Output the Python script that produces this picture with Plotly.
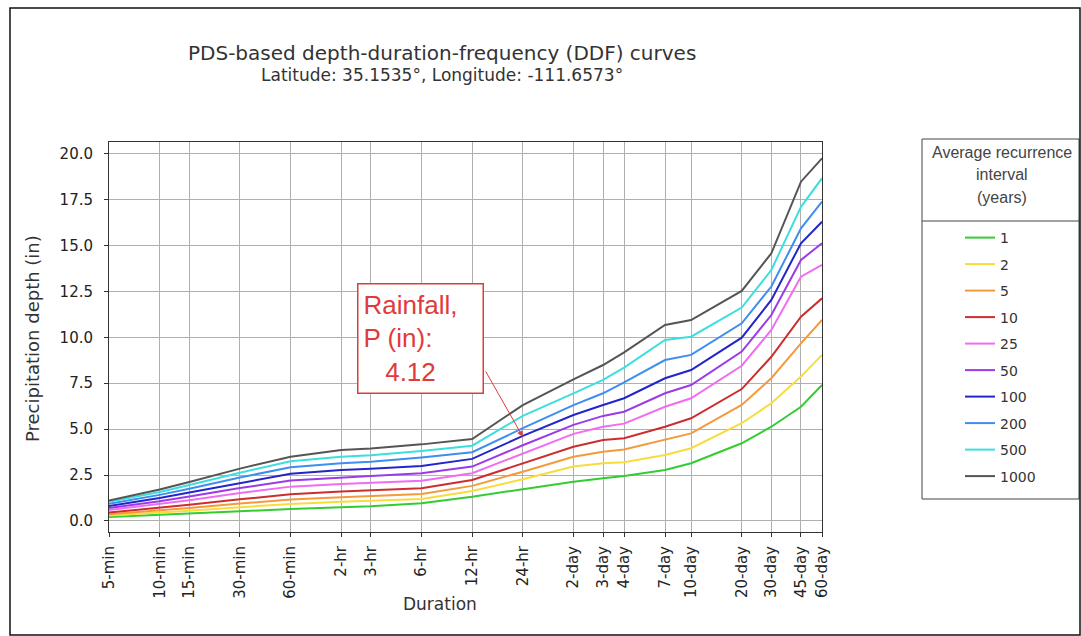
import math
import plotly.graph_objects as go

durations_min = [5, 10, 15, 30, 60, 120, 180, 360, 720, 1440, 2880, 4320, 5760,
                 10080, 14400, 28800, 43200, 64800, 86400]
duration_labels = ["5-min", "10-min", "15-min", "30-min", "60-min", "2-hr", "3-hr",
                   "6-hr", "12-hr", "24-hr", "2-day", "3-day", "4-day", "7-day",
                   "10-day", "20-day", "30-day", "45-day", "60-day"]

ari_1 = [0.21, 0.32, 0.40, 0.53, 0.65, 0.75, 0.80, 0.96, 1.32, 1.73, 2.14, 2.32, 2.45, 2.78, 3.14, 4.23, 5.13, 6.22, 7.40]
ari_2 = [0.30, 0.45, 0.56, 0.75, 0.93, 1.05, 1.10, 1.20, 1.63, 2.27, 2.96, 3.14, 3.20, 3.59, 3.96, 5.32, 6.41, 7.86, 9.04]
ari_5 = [0.37, 0.57, 0.71, 0.95, 1.17, 1.29, 1.35, 1.47, 1.91, 2.68, 3.50, 3.77, 3.89, 4.41, 4.77, 6.32, 7.77, 9.67, 10.94]
ari_10 = [0.46, 0.71, 0.88, 1.18, 1.45, 1.60, 1.66, 1.78, 2.23, 3.14, 4.04, 4.41, 4.50, 5.13, 5.59, 7.18, 8.94, 11.12, 12.12]
ari_25 = [0.60, 0.91, 1.13, 1.52, 1.87, 2.01, 2.07, 2.19, 2.60, 3.68, 4.74, 5.13, 5.30, 6.22, 6.68, 8.45, 10.40, 13.30, 13.94]
ari_50 = [0.70, 1.07, 1.33, 1.79, 2.20, 2.38, 2.45, 2.60, 2.96, 4.12, 5.23, 5.72, 5.95, 6.95, 7.40, 9.22, 11.21, 14.21, 15.12]
ari_100 = [0.82, 1.25, 1.55, 2.08, 2.57, 2.78, 2.84, 2.99, 3.38, 4.63, 5.77, 6.31, 6.68, 7.77, 8.22, 9.98, 12.03, 15.12, 16.29]
ari_200 = [0.94, 1.42, 1.76, 2.37, 2.92, 3.14, 3.22, 3.45, 3.74, 5.05, 6.31, 6.95, 7.54, 8.76, 9.04, 10.76, 12.76, 15.93, 17.38]
ari_500 = [1.04, 1.58, 1.96, 2.63, 3.25, 3.50, 3.58, 3.81, 4.10, 5.72, 6.95, 7.68, 8.35, 9.85, 10.03, 11.62, 13.66, 17.10, 18.66]
ari_1000 = [1.12, 1.71, 2.12, 2.85, 3.50, 3.86, 3.95, 4.17, 4.46, 6.31, 7.71, 8.49, 9.18, 10.67, 10.94, 12.52, 14.57, 18.47, 19.74]

series_names = ["1", "2", "5", "10", "25", "50", "100", "200", "500", "1000"]
series_values = [ari_1, ari_2, ari_5, ari_10, ari_25, ari_50, ari_100, ari_200, ari_500, ari_1000]
series_colors = ["#33cc33", "#f8dc3c", "#f59a3a", "#cc2e2e", "#f06cf0",
                 "#9b3be8", "#2424cc", "#3d8ef0", "#3ddede", "#555555"]

y_ticks = [0.0, 2.5, 5.0, 7.5, 10.0, 12.5, 15.0, 17.5, 20.0]

annot_duration = 1440
annot_value = 4.58
annot_text = "Rainfall,<br>P (in):<br>\u00a0\u00a0\u00a04.12"

W, H = 1081, 636
L, R, T, B = 109, 822, 142, 532


def px(xp):
    return (xp - L) / (R - L)


def py(yp):
    return (B - yp) / (B - T)


fig = go.Figure()
for name, vals, col in zip(series_names, series_values, series_colors):
    fig.add_trace(go.Scatter(x=durations_min, y=vals, mode="lines", name=name,
                             legendgroup=name,
                             line=dict(color=col, width=2)))

font_main = "DejaVu Sans"
fig.update_layout(
    width=W, height=H,
    margin=dict(l=L, r=W - R, t=T, b=H - B),
    paper_bgcolor="white", plot_bgcolor="white",
    font=dict(family=font_main, color="#222222", size=14),
    showlegend=True,
    legend=dict(x=px(960), y=py(222), xanchor="left", yanchor="top",
                font=dict(family=font_main, size=14, color="#333333"),
                bgcolor="rgba(0,0,0,0)", borderwidth=0, tracegroupgap=5.3,
                itemwidth=30),
)

fig.update_xaxes(type="log", range=[math.log10(5), math.log10(86400)],
                 tickmode="array", tickvals=durations_min, ticktext=duration_labels,
                 tickangle=-90, showgrid=True, gridcolor="#b0b0b0", gridwidth=1,
                 ticks="outside", ticklen=4, tickcolor="#333333", ticklabelstandoff=3,
                 showline=True, linecolor="#333333", linewidth=1, mirror=True,
                 tickfont=dict(size=15, color="#222222"), zeroline=False)
fig.update_yaxes(range=[-0.6, 20.63], tickmode="array", tickvals=y_ticks,
                 ticktext=[f"{v:.1f}" for v in y_ticks],
                 showgrid=True, gridcolor="#b0b0b0", gridwidth=1,
                 ticks="outside", ticklen=4, tickcolor="#333333", ticklabelstandoff=8,
                 showline=True, linecolor="#333333", linewidth=1, mirror=True,
                 tickfont=dict(size=15, color="#222222"), zeroline=False)

anns = [
    dict(text="PDS-based depth-duration-frequency (DDF) curves", x=px(442), y=py(53),
         font=dict(size=20, color="#333333", family=font_main)),
    dict(text="Latitude: 35.1535\u00b0, Longitude: -111.6573\u00b0", x=px(442), y=py(75),
         font=dict(size=17, color="#333333", family=font_main)),
    dict(text="Precipitation depth (in)", x=px(32), y=py(339), textangle=-90,
         font=dict(size=18, color="#333333", family=font_main)),
    dict(text="Duration", x=px(440), y=py(604),
         font=dict(size=17, color="#333333", family=font_main)),
    dict(text="Average recurrence", x=px(1002), y=py(152),
         font=dict(size=16, color="#444444", family="Liberation Sans")),
    dict(text="interval", x=px(1002), y=py(174),
         font=dict(size=16, color="#444444", family="Liberation Sans")),
    dict(text="(years)", x=px(1002), y=py(197),
         font=dict(size=16, color="#444444", family="Liberation Sans")),
]
for a in anns:
    a.update(xref="paper", yref="paper", showarrow=False, xanchor="center", yanchor="middle")
    fig.add_annotation(**a)

# callout box (text only) and its pointer arrow
fig.add_annotation(x=math.log10(annot_duration), y=annot_value, xref="x", yref="y",
                   text=annot_text, showarrow=True, ax=-102, ay=-98,
                   arrowcolor="rgba(0,0,0,0)", arrowwidth=0.1,
                   align="left", font=dict(size=26, color="#e03a3a", family="Liberation Sans"),
                   bordercolor="#e03a3a", borderwidth=1.5, borderpad=5, bgcolor="white",
                   width=114)
fig.add_annotation(x=math.log10(annot_duration), y=annot_value, xref="x", yref="y",
                   text="", showarrow=True, ax=-38, ay=-67,
                   arrowcolor="#e03a3a", arrowwidth=1, arrowhead=2, arrowsize=1.2)

# legend box with header
fig.add_shape(type="rect", xref="paper", yref="paper",
              x0=px(922), x1=px(1079), y0=py(499), y1=py(139),
              line=dict(color="#444444", width=1))
fig.add_shape(type="line", xref="paper", yref="paper",
              x0=px(922), x1=px(1079), y0=py(221), y1=py(221),
              line=dict(color="#444444", width=1))
# outer frame
fig.add_shape(type="rect", xref="paper", yref="paper",
              x0=px(10), x1=px(1080), y0=py(635), y1=py(8),
              line=dict(color="#111111", width=1.5))

fig.write_html("out.html")
